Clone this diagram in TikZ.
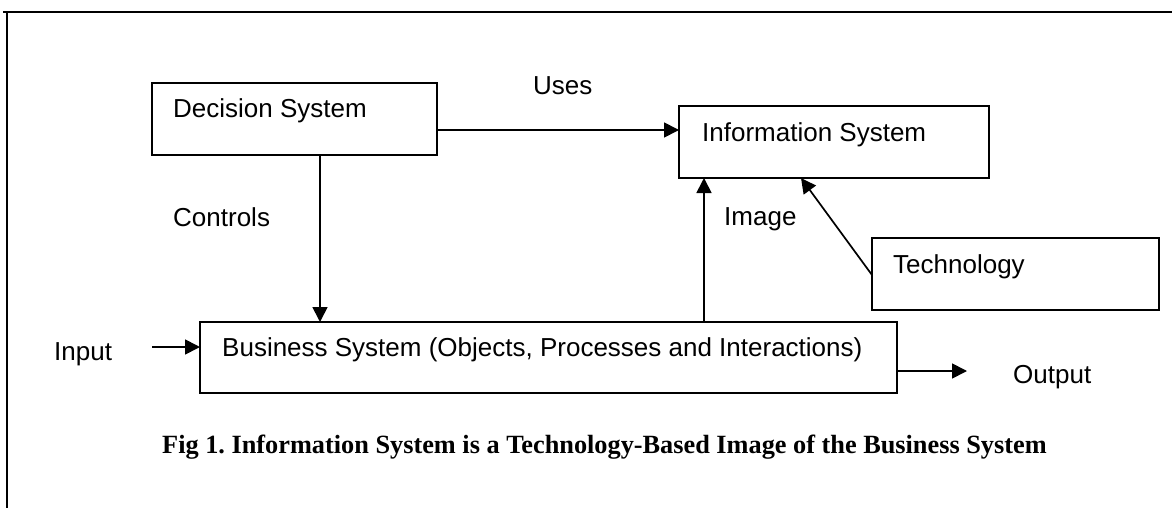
\documentclass[tikz,border=0pt]{standalone}
\usepackage{fontspec}
\setmainfont{Liberation Sans}
\newfontfamily\capfont{Liberation Serif}
\usetikzlibrary{arrows.meta}
\frenchspacing
\begin{document}
\begin{tikzpicture}[x=1pt,y=-1pt,
  box/.style={draw, line width=1.7pt, inner sep=0pt, outer sep=0pt, anchor=north west},
  lbl/.style={inner sep=0pt, anchor=base west, font=\fontsize{26}{30}\selectfont},
  arr/.style={line width=1.7pt, -{Triangle[length=15pt,width=15pt]}}]
\useasboundingbox (0,0) rectangle (1172,508);
% frame
\draw[line width=1.7pt] (3,12) -- (1172,12);
\draw[line width=1.7pt] (7,12) -- (7,508);
% boxes
\node[box, minimum width=285pt, minimum height=72pt] (dec) at (152,83) {};
\node[box, minimum width=310pt, minimum height=72pt] (info) at (679,106) {};
\node[box, minimum width=287pt, minimum height=72pt] (tech) at (872,238) {};
\node[box, minimum width=697pt, minimum height=71pt] (biz) at (200,322) {};
% labels
\node[lbl] (decT) at (173,118) {Decision System};
\node[lbl] (uses) at (533,95) {Uses};
\node[lbl] (ctrl) at (173,226) {Controls};
\node[lbl] (infoT) at (702,142) {Information System};
\node[lbl] (img) at (724,225) {Image};
\node[lbl] (techT) at (893,273) {Technology};
\node[lbl] (inT) at (54,360) {Input};
\node[lbl] (bizT) at (222,356) {Business System (Objects, Processes and Interactions)};
\node[lbl] (outT) at (1013,383) {Output};
\node[inner sep=0pt, anchor=base west, font=\capfont\bfseries\fontsize{26.3}{30}\selectfont] (cap) at (162,453) {Fig 1. Information System is a Technology-Based Image of the Business System};
% helper coordinates
\coordinate (usesY) at (0,130);
\coordinate (ctlX) at (320,0);
\coordinate (imgX) at (704,0);
\coordinate (techY) at (0,275);
\coordinate (techTip) at (801,0);
\coordinate (inS) at (152,347);
\coordinate (outE) at (967,371);
% connectors
\draw[arr] (dec.east |- usesY) -- (info.west |- usesY);
\draw[arr] (dec.south -| ctlX) -- (biz.north -| ctlX);
\draw[arr] (biz.north -| imgX) -- (info.south -| imgX);
\draw[arr] (tech.west |- techY) -- (info.south -| techTip);
\draw[arr] (inS) -- (biz.west |- inS);
\draw[arr] (biz.east |- outE) -- (outE);
\end{tikzpicture}
\end{document}
